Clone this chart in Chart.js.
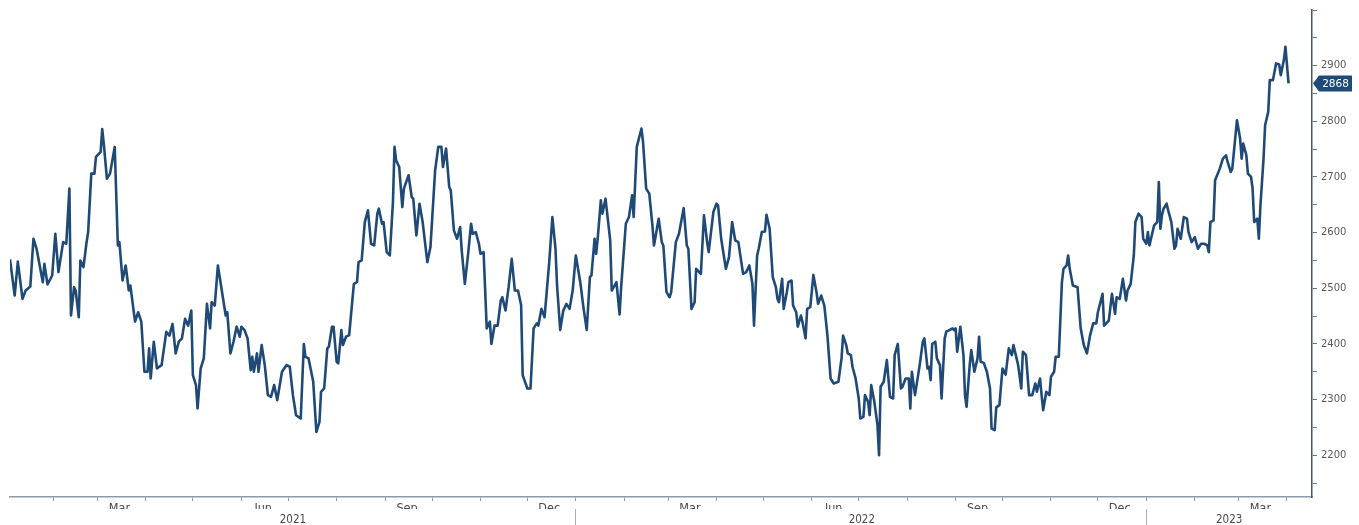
<!DOCTYPE html>
<html>
<head>
<meta charset="utf-8">
<script src="https://cdn.jsdelivr.net/npm/chart.js@4.4.1/dist/chart.umd.min.js"></script>
<style>
  html, body { margin: 0; padding: 0; background: #ffffff; }
  #wrap { width: 1359px; height: 525px; }
</style>
</head>
<body>
<div id="wrap"><canvas id="c" width="1359" height="525"></canvas></div>
<script>
// Days counted from 2021-01-01 (day 0)
const baseDate = '2021-01-01';
const days = [
  3,6,8,11,13,16,18,20,24,25,27,30,32,34,37,39,41,42,44,45,47,48,50,52,53,55,57,58,61,62,63,65,67,70,72,73,75,77,79,80,
  83,85,87,89,91,92,93,95,97,100,103,105,107,109,111,113,115,117,119,120,122,123,125,127,129,131,132,134,136,139,
  141,142,144,146,148,150,151,153,155,157,158,159,161,162,164,166,168,170,172,174,177,180,182,184,186,189,191,192,194,197,
  199,201,202,204,206,207,209,210,212,213,215,216,218,220,223,225,226,228,230,232,234,236,238,239,241,242,244,246,248,249,
  250,252,254,255,258,260,261,263,265,267,270,272,275,277,279,280,282,284,285,287,289,291,292,294,296,298,299,301,303,304,
  306,308,310,311,313,315,317,318,320,322,324,326,328,330,331,334,336,338,340,341,343,345,348,350,352,353,355,357,359,361,
  363,365,368,370,372,374,375,377,378,379,381,382,384,387,388,391,393,394,397,399,401,402,404,407,408,410,412,414,415,418,
  420,421,423,425,426,429,431,434,436,437,439,441,442,445,447,449,450,453,455,456,458,461,463,465,467,469,472,474,476,478,
  479,481,482,484,486,487,489,491,493,494,495,497,498,500,501,503,504,506,507,509,510,512,513,515,517,519,520,522,524,526,
  528,530,533,535,536,538,539,541,542,544,546,547,549,550,552,553,554,556,558,559,560,562,564,566,568,569,571,573,574,576,
  578,579,580,582,584,585,587,588,590,591,592,593,595,596,598,599,601,602,604,606,607,608,609,611,613,614,615,617,618,620,
  622,623,624,626,628,630,631,633,634,636,638,640,642,644,645,648,650,651,653,655,657,659,660,662,663,664,666,668,669,671,
  672,674,676,677,679,680,681,683,686,688,690,692,694,696,698,699,702,703,706,708,710,711,713,715,717,718,720,722,723,725,
  727,728,730,731,732,734,735,737,738,739,740,741,743,744,746,748,749,750,752,754,756,757,759,761,763,765,767,769,770,771,
  773,774,777,779,781,782,784,785,788,790,791,792,794,795,797,798,799,801,802,803,805,806,808,809,811,813,815,816,818,819,
  821
];
const values = [
  2552,2487,2548,2481,2496,2503,2589,2571,2511,2544,2507,2523,2598,2529,2583,2580,2679,2451,2502,2496,2448,2550,2538,2583,2601,2706,2706,2736,2745,2786,2760,2697,2706,2754,2577,2583,2514,2541,2496,2505,
  2440,2457,2440,2350,2350,2392,2338,2404,2356,2362,2422,2415,2436,2383,2404,2410,2445,2433,2460,2344,2326,2284,2356,2374,2472,2428,2475,2469,2541,2487,
  2451,2457,2383,2404,2431,2413,2431,2425,2410,2353,2377,2350,2383,2350,2398,2362,2308,2305,2326,2299,2350,2362,2359,2308,2272,2266,2400,2377,2374,2332,
  2242,2260,2314,2320,2392,2395,2431,2431,2368,2365,2425,2398,2413,2416,2508,2511,2547,2550,2619,2640,2580,2577,2634,2643,2616,2619,2565,2559,2655,2754,
  2730,2718,2646,2679,2703,2664,2661,2595,2652,2619,2547,2574,2712,2754,2754,2718,2751,2682,2676,2604,2589,2610,2568,2508,2559,2616,2598,2601,2580,2562,
  2565,2428,2440,2400,2433,2433,2478,2484,2460,2502,2553,2496,2496,2470,2344,2320,2320,2428,2437,2433,2463,2448,2547,2628,2571,2505,2425,2460,2472,2463,
  2496,2559,2508,2463,2425,2520,2523,2589,2562,2589,2658,2634,2661,2586,2496,2511,2453,2502,2616,2628,2667,2628,2754,2787,2763,2679,2670,2613,2577,2625,
  2583,2577,2493,2484,2493,2583,2598,2644,2577,2571,2463,2475,2535,2526,2631,2583,2565,2637,2652,2649,2589,2535,2556,2619,2586,2583,2526,2529,2541,2508,
  2433,2559,2571,2601,2602,2632,2607,2520,2502,2481,2475,2517,2463,2493,2511,2514,2469,2457,2431,2451,2440,2410,2463,2466,2524,2493,2472,2487,2469,2415,
  2338,2329,2332,2374,2415,2398,2383,2380,2359,2338,2302,2266,2269,2308,2296,2272,2326,2296,2254,2200,2323,2332,2371,2305,2302,2380,2400,2320,2323,2338,
  2338,2284,2350,2308,2344,2362,2404,2410,2356,2359,2335,2400,2404,2374,2362,2302,2410,2422,2425,2428,2425,2428,2386,2431,2380,2308,2287,2362,2389,2350,
  2374,2413,2368,2366,2350,2320,2248,2245,2286,2290,2356,2345,2392,2380,2398,2362,2320,2386,2380,2308,2308,2329,2314,2338,2308,2281,2314,2308,2341,2350,
  2377,2377,2511,2535,2541,2559,2535,2505,2502,2428,2398,2383,2415,2437,2437,2457,2490,2433,2442,2490,2454,2484,2481,2517,2478,2496,2508,2559,2619,2634,
  2628,2589,2580,2601,2577,2601,2613,2619,2691,2607,2631,2643,2652,2640,2619,2571,2577,2607,2589,2628,2625,2601,2583,2592,2571,2580,2580,2577,2565,2619,
  2622,2694,2715,2733,2739,2727,2709,2715,2802,2769,2733,2760,2739,2706,2700,2679,2619,2625,2589,2649,2733,2793,2817,2874,2874,2904,2902,2883,2910,2934,
  2868
];

const monthLabels = { 2: 'Mar', 5: 'Jun', 8: 'Sep', 11: 'Dec' }; // month index -> label
const yearLabels = ['2021', '2022', '2023'];
const yTickLabels = ['2200', '2300', '2400', '2500', '2600', '2700', '2800', '2900'];

const X_MIN = 3, X_MAX = 836;
const Y_MIN = 2125, Y_MAX = 3000;

const base = Date.UTC(2021, 0, 1);
const dayOf = (y, m, d) => Math.round((Date.UTC(y, m, d) - base) / 86400000);

// build calendar ticks
const monthStarts = [];
const monthMids = {};
for (let y = 2021; y <= 2023; y++) {
  for (let m = 0; m < 12; m++) {
    const s = dayOf(y, m, 1);
    if (s > X_MIN && s < X_MAX) monthStarts.push(s);
    if (monthLabels[m]) {
      const mid = dayOf(y, m, 15);
      if (mid > X_MIN && mid < X_MAX) monthMids[mid] = monthLabels[m];
    }
  }
}
const yearBounds = [];
const yearMids = {};
yearLabels.forEach((lab) => {
  const y = parseInt(lab, 10);
  const s = Math.max(dayOf(y, 0, 1), X_MIN);
  const e = Math.min(dayOf(y + 1, 0, 1), X_MAX);
  if (dayOf(y, 0, 1) > X_MIN) yearBounds.push(dayOf(y, 0, 1));
  yearMids[Math.round((s + e) / 2)] = lab;
});

const FONT = "'DejaVu Sans Condensed', 'Liberation Sans Narrow', 'DejaVu Sans', sans-serif";
const LINE = '#1f4a77';

const lastLabel = {
  id: 'lastLabel',
  afterDraw(chart) {
    const ctx = chart.ctx;
    const ys = chart.scales.y;
    const v = values[values.length - 1];
    const y = ys.getPixelForValue(v);
    const x = chart.chartArea.right + 1;
    ctx.save();
    ctx.fillStyle = '#1f4a77';
    ctx.beginPath();
    ctx.moveTo(x, y);
    ctx.lineTo(x + 6, y - 8);
    ctx.lineTo(x + 39, y - 8);
    ctx.lineTo(x + 39, y + 8);
    ctx.lineTo(x + 6, y + 8);
    ctx.closePath();
    ctx.fill();
    ctx.fillStyle = '#ffffff';
    ctx.font = "10.5px 'DejaVu Sans', sans-serif";
    ctx.textAlign = 'center';
    ctx.textBaseline = 'middle';
    ctx.fillText(String(v), x + 22.5, y + 0.5);
    ctx.restore();
  }
};

new Chart(document.getElementById('c'), {
  type: 'line',
  data: {
    datasets: [{
      data: days.map((d, i) => ({ x: d, y: values[i] })),
      borderColor: LINE,
      borderWidth: 2.6,
      borderJoinStyle: 'round',
      pointRadius: 0,
      tension: 0,
      fill: false
    }]
  },
  options: {
    responsive: false,
    animation: false,
    layout: { padding: { left: 10, top: 10, right: 0, bottom: 0 } },
    plugins: { legend: { display: false }, tooltip: { enabled: false } },
    scales: {
      x: {
        type: 'linear',
        position: 'bottom',
        min: X_MIN, max: X_MAX,
        weight: 0,
        afterBuildTicks(scale) {
          const vals = monthStarts.concat(Object.keys(monthMids).map(Number)).sort((a, b) => a - b);
          scale.ticks = vals.map(v => ({ value: v }));
        },
        afterFit(scale) { scale.height = 12; },
        grid: {
          drawOnChartArea: false,
          drawTicks: true,
          tickLength: 4,
          tickColor: (ctx) => (ctx.tick && monthMids[ctx.tick.value]) ? 'rgba(0,0,0,0)' : '#8d9aa8',
          tickWidth: 1
        },
        border: { display: true, color: '#8d9aa8', width: 1.5 },
        ticks: {
          autoSkip: false,
          maxRotation: 0,
          padding: 0,
          color: '#4a4a4a',
          font: { family: FONT, size: 12.5 },
          callback: (v) => monthMids[v] || ''
        }
      },
      x2: {
        type: 'linear',
        position: 'bottom',
        min: X_MIN, max: X_MAX,
        weight: 1,
        afterBuildTicks(scale) {
          const vals = yearBounds.concat(Object.keys(yearMids).map(Number)).sort((a, b) => a - b);
          scale.ticks = vals.map(v => ({ value: v }));
        },
        afterFit(scale) { scale.height = 16; },
        grid: {
          drawOnChartArea: false,
          drawTicks: true,
          tickLength: 16,
          tickColor: (ctx) => (ctx.tick && yearMids[ctx.tick.value]) ? 'rgba(0,0,0,0)' : '#a8b0b8',
          tickWidth: 1
        },
        border: { display: false },
        ticks: {
          autoSkip: false,
          maxRotation: 0,
          padding: -12,
          color: '#4a4a4a',
          font: { family: FONT, size: 11.5 },
          callback: (v) => yearMids[v] || ''
        }
      },
      y: {
        type: 'linear',
        position: 'right',
        min: Y_MIN, max: Y_MAX,
        afterBuildTicks(scale) {
          const t = [];
          for (let v = 2150; v <= 3000; v += 50) t.push({ value: v });
          scale.ticks = t;
        },
        afterFit(scale) { scale.width = 47; },
        grid: {
          drawOnChartArea: false,
          drawTicks: true,
          tickLength: 5,
          tickColor: '#6b7a8a',
          tickWidth: 1
        },
        border: { display: true, color: '#44566b', width: 1.5 },
        ticks: {
          autoSkip: false,
          padding: 4,
          color: '#5a5a5a',
          font: { family: "'DejaVu Sans', sans-serif", size: 10 },
          callback: (v) => yTickLabels.includes(String(v)) ? String(v) : ''
        }
      }
    }
  },
  plugins: [lastLabel]
});
</script>
</body>
</html>
